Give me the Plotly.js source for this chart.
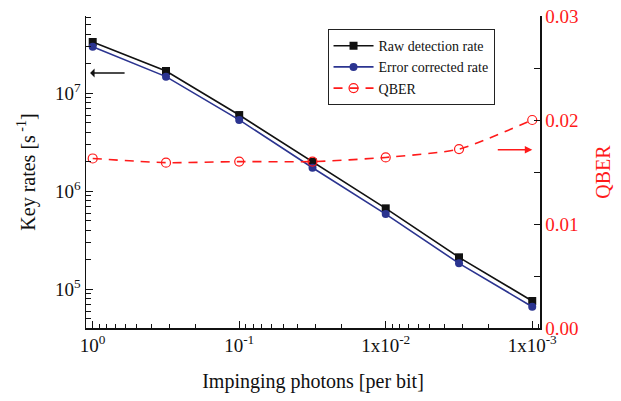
<!DOCTYPE html>
<html>
<head>
<meta charset="utf-8">
<script src="https://cdn.plot.ly/plotly-3.0.1.min.js"></script>
<style>
html,body{margin:0;padding:0;background:#fff;}
#chart{width:621px;height:401px;}
</style>
</head>
<body>
<div id="chart"></div>
<script>
// Impinging photons per bit (x values)
var photons = [1, 0.316, 0.1, 0.0316, 0.01, 0.00316, 0.001];
// Raw detection rate [s^-1]
var rawRate = [3.34e7, 1.69e7, 6.0e6, 1.99e6, 6.7e5, 2.12e5, 7.6e4];
// Error corrected rate [s^-1]
var corrRate = [2.99e7, 1.48e7, 5.35e6, 1.74e6, 5.86e5, 1.84e5, 6.64e4];
// QBER
var qber = [0.0163, 0.0159, 0.0160, 0.0160, 0.0164, 0.0172, 0.0200];

var xTickVals = [1, 0.1, 0.01, 0.001];
var xTickText = ['10<sup>0</sup>', '10<sup>-1</sup>', '1x10<sup>-2</sup>', '1x10<sup>-3</sup>'];
var yTickVals = [1e5, 1e6, 1e7];
var yTickText = ['10<sup>5</sup>', '10<sup>6</sup>', '10<sup>7</sup>'];
var qTickVals = [0, 0.01, 0.02, 0.03];
var qTickText = ['0.00', '0.01', '0.02', '0.03'];

// top-axis minor tick positions: between consecutive photon values
var topMinor = [];
for (var i = 0; i < photons.length - 1; i++) topMinor.push(Math.sqrt(photons[i] * photons[i + 1]));

var FONT = 'Liberation Serif, Times New Roman, serif';
var xRange = [0.0457, -3.053];
var yRange = [4.605, 7.789];

var traces = [
  {x: photons, y: rawRate, name: 'Raw detection rate', type: 'scatter', mode: 'lines+markers',
   line: {color: '#111111', width: 1.6}, marker: {symbol: 'square', size: 8, color: '#111111'},
   xaxis: 'x', yaxis: 'y'},
  {x: photons, y: corrRate, name: 'Error corrected rate', type: 'scatter', mode: 'lines+markers',
   line: {color: '#2b3490', width: 1.6}, marker: {symbol: 'circle', size: 8, color: '#2b3490'},
   xaxis: 'x', yaxis: 'y'},
  {x: photons, y: qber, name: 'QBER', type: 'scatter', mode: 'lines+markers',
   line: {color: '#ff1a1a', width: 1.6, dash: '9px,7px', shape: 'spline', smoothing: 0.6},
   marker: {symbol: 'circle-open', size: 9, color: '#ff1a1a', line: {width: 1.2}},
   xaxis: 'x', yaxis: 'y2'}
];

var layout = {
  width: 621, height: 401,
  margin: {l: 86, r: 80.5, t: 16, b: 73, pad: 0},
  paper_bgcolor: '#fff', plot_bgcolor: '#fff',
  font: {family: FONT, size: 19, color: '#111'},
  showlegend: true,
  legend: {x: 0.532, y: 0.958, xanchor: 'left', yanchor: 'top',
    bgcolor: '#fff', bordercolor: '#222', borderwidth: 1,
    font: {family: FONT, size: 14, color: '#111'}, tracegroupgap: 0, itemwidth: 40},
  xaxis: {type: 'log', range: xRange, tickmode: 'array', tickvals: xTickVals, ticktext: xTickText,
    ticks: 'inside', ticklen: 7, tickwidth: 1, tickcolor: '#111',
    showline: true, linecolor: '#111', linewidth: 1.5, showgrid: false, zeroline: false,
    tickfont: {family: FONT, size: 19, color: '#111'},
    minor: {ticks: 'inside', ticklen: 4.5, tickcolor: '#111', tickwidth: 1, dtick: 'D1', showgrid: false},
    title: {text: 'Impinging photons [per bit]', font: {family: FONT, size: 20, color: '#111'}, standoff: 18}},
  xaxis2: {type: 'log', range: xRange, overlaying: 'x', side: 'top', anchor: 'y',
    tickmode: 'array', tickvals: photons, showticklabels: false,
    ticks: 'inside', ticklen: 6, tickwidth: 1, tickcolor: '#111',
    showline: true, linecolor: '#111', linewidth: 1.5, showgrid: false, zeroline: false,
    minor: {ticks: 'inside', ticklen: 4, tickcolor: '#111', tickwidth: 1, tickmode: 'array', tickvals: topMinor, showgrid: false}},
  yaxis: {type: 'log', range: yRange, tickmode: 'array', tickvals: yTickVals, ticktext: yTickText,
    ticks: 'inside', ticklen: 7, tickwidth: 1, tickcolor: '#111',
    showline: true, linecolor: '#111', linewidth: 1.5, showgrid: false, zeroline: false,
    tickfont: {family: FONT, size: 19, color: '#111'},
    minor: {ticks: 'inside', ticklen: 4.5, tickcolor: '#111', tickwidth: 1, dtick: 'D1', showgrid: false},
    title: {text: 'Key rates [s<sup> -1</sup>]', font: {family: FONT, size: 20, color: '#111'}, standoff: 14}},
  yaxis2: {range: [0, 0.03], overlaying: 'y', side: 'right', anchor: 'x',
    tickmode: 'array', tickvals: qTickVals, ticktext: qTickText,
    ticks: 'inside', ticklen: 6, tickwidth: 1, tickcolor: '#111',
    showline: true, linecolor: '#111', linewidth: 1.5, showgrid: false, zeroline: false,
    tickfont: {family: FONT, size: 19, color: '#ff1a1a'},
    minor: {ticks: 'inside', ticklen: 6, tickcolor: '#111', tickwidth: 1, dtick: 0.005, showgrid: false},
    title: {text: 'QBER', font: {family: FONT, size: 20, color: '#ff1a1a'}, standoff: 18}},
  annotations: [
    {xref: 'paper', yref: 'paper', x: 0.009, y: 0.817, ax: 36, ay: 0,
     text: '', showarrow: true, arrowhead: 1, arrowsize: 1, arrowwidth: 1.5, arrowcolor: '#111'},
    {xref: 'paper', yref: 'paper', x: 0.983, y: 0.571, ax: -36, ay: 0,
     text: '', showarrow: true, arrowhead: 2, arrowsize: 1, arrowwidth: 1.5, arrowcolor: '#ff1a1a'}
  ]
};

Plotly.newPlot('chart', traces, layout, {displayModeBar: false, staticPlot: true});
</script>
</body>
</html>
